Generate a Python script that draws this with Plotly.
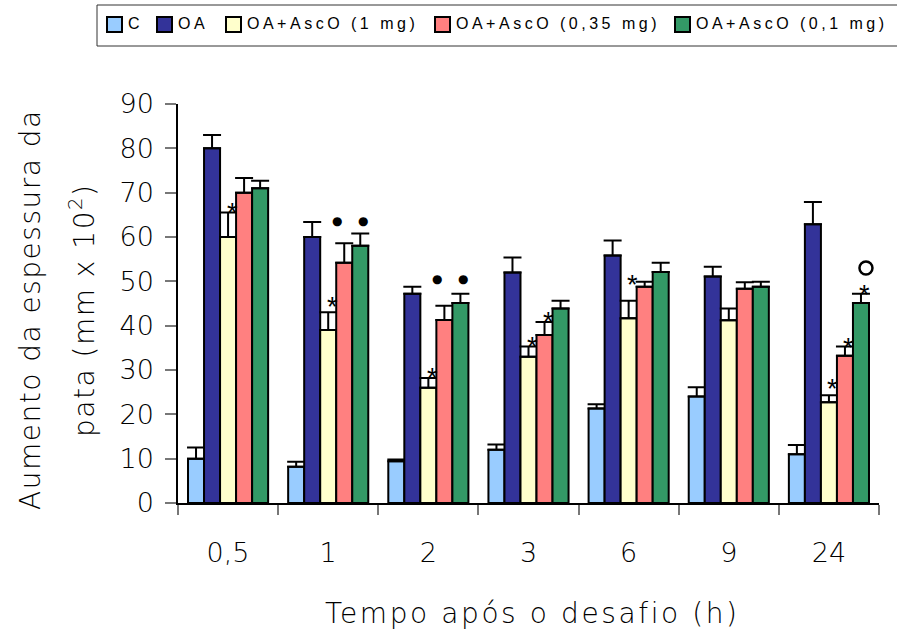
import plotly.graph_objects as go

# ---- data ----
categories = ["0,5", "1", "2", "3", "6", "9", "24"]
series_names = ["C", "OA", "OA+AscO (1 mg)", "OA+AscO (0,35 mg)", "OA+AscO (0,1 mg)"]
c_vals = [10, 8.2, 9.4, 12, 21.3, 24, 11]
c_err = [2.5, 1.1, 0.4, 1.2, 1.0, 2.1, 2.1]
oa_vals = [80, 60, 47.2, 52, 55.8, 51.1, 62.9]
oa_err = [3, 3.4, 1.6, 3.4, 3.4, 2.2, 5]
asc1_vals = [60, 39, 26, 33, 41.7, 41.2, 22.7]
asc1_err = [5.5, 4, 2.2, 2.3, 3.9, 2.7, 1.6]
asc035_vals = [70, 54.2, 41.3, 37.9, 48.8, 48.3, 33.2]
asc035_err = [3.3, 4.4, 3.2, 2.9, 1.1, 1.5, 2.1]
asc01_vals = [71, 58, 45.1, 43.9, 52.1, 48.8, 45.1]
asc01_err = [1.7, 2.8, 2.1, 1.7, 2.1, 1.1, 2.1]
colors = ["#99CCFF", "#333399", "#FFFFCC", "#FF8080", "#339966"]

# significance marks: (category index, series index, symbol, y value)
marks = [
    (0, 2, "*", 66.8),
    (1, 2, "*", 45.5), (1, 3, "●", 63.6), (1, 4, "●", 63.6),
    (2, 2, "*", 29.6), (2, 3, "●", 50.5), (2, 4, "●", 50.5),
    (3, 2, "*", 36.6), (3, 3, "*", 42.2),
    (4, 2, "*", 50.5),
    (6, 2, "*", 27.1), (6, 3, "*", 36.4), (6, 4, "*", 48.3), (6, 4, "○", 53.0),
]

values = [c_vals, oa_vals, asc1_vals, asc035_vals, asc01_vals]
errors = [c_err, oa_err, asc1_err, asc035_err, asc01_err]

W, H = 897, 636
ML, MR, MT, MB = 178, 18, 104, 133
PW, PH = W - ML - MR, H - MT - MB

FONT = "DejaVu Sans"

fig = go.Figure()
for name, v, e, col in zip(series_names, values, errors, colors):
    fig.add_trace(go.Bar(
        name=name, x=categories, y=v,
        marker=dict(color=col, line=dict(color="black", width=2)),
        error_y=dict(type="data", array=e, arrayminus=[0] * len(e), symmetric=False,
                     color="black", thickness=2, width=9),
        showlegend=False,
    ))

n = len(series_names)
bw = 0.8 / n
# small horizontal nudges for the paired dots (first / second of a pair)
dot_shift = {3: -7, 4: 3}
annotations = []
shapes = []
for ci, si, sym, yv in marks:
    xpos = ci + (si - (n - 1) / 2) * bw
    if sym == "*":
        annotations.append(dict(x=xpos, y=yv, xref="x", yref="y", text="*", showarrow=False,
                                font=dict(family="Liberation Sans", size=27, color="black"),
                                xanchor="center", yanchor="middle", xshift=4, yshift=-6))
    elif sym == "●":
        annotations.append(dict(x=xpos, y=yv, xref="x", yref="y", text="●", showarrow=False,
                                font=dict(family=FONT, size=12, color="black"),
                                xanchor="center", yanchor="middle", xshift=dot_shift[si]))
    else:
        # open circle marker drawn as a pixel-sized shape anchored at the data point
        shapes.append(dict(type="circle", xref="x", yref="y",
                           xsizemode="pixel", ysizemode="pixel",
                           xanchor=xpos, yanchor=yv,
                           x0=-1.5, x1=11.5, y0=-6.5, y1=6.5,
                           line=dict(color="black", width=2.5), fillcolor="rgba(0,0,0,0)"))


def px_x(p):
    return (p - ML) / PW


def px_y(p):
    return (H - MB - p) / PH


# y-axis title (two lines)
annotations.append(dict(x=px_x(30), y=px_y(310), xref="paper", yref="paper",
                        text='<span style="letter-spacing:1.5px">Aumento da espessura da</span>',
                        textangle=-90, showarrow=False,
                        font=dict(family=FONT, size=28, color="black", weight=300),
                        xanchor="center", yanchor="middle"))
annotations.append(dict(x=px_x(82), y=px_y(311), xref="paper", yref="paper",
                        text='<span style="letter-spacing:1.5px">pata (mm x 10<sup>2</sup>)</span>',
                        textangle=-90, showarrow=False,
                        font=dict(family=FONT, size=28, color="black", weight=300),
                        xanchor="center", yanchor="middle"))
# x-axis title
annotations.append(dict(x=px_x(532), y=px_y(613), xref="paper", yref="paper",
                        text='<span style="letter-spacing:2.6px">Tempo após o desafio (h)</span>',
                        showarrow=False, font=dict(family=FONT, size=28, color="black", weight=300),
                        xanchor="center", yanchor="middle"))

# legend (drawn manually to mimic the original boxed layout)
shapes.append(dict(type="rect", xref="paper", yref="paper",
                   x0=px_x(97), x1=px_x(905), y0=px_y(46), y1=px_y(5),
                   line=dict(color="#333", width=1), fillcolor="white"))
leg_sq_x = [107, 157, 226, 435, 675]
for name, col, sx in zip(series_names, colors, leg_sq_x):
    shapes.append(dict(type="rect", xref="paper", yref="paper",
                       x0=px_x(sx), x1=px_x(sx + 15), y0=px_y(32), y1=px_y(17),
                       line=dict(color="black", width=2), fillcolor=col))
    annotations.append(dict(x=px_x(sx + 19), y=px_y(23), xref="paper", yref="paper",
                            text='<span style="letter-spacing:3.5px">%s</span>' % name,
                            showarrow=False, font=dict(family="Liberation Sans", size=16, color="black"),
                            xanchor="left", yanchor="middle"))

fig.update_layout(
    width=W, height=H,
    margin=dict(l=ML, r=MR, t=MT, b=MB, pad=0),
    paper_bgcolor="white", plot_bgcolor="white",
    barmode="group", bargap=0.2, bargroupgap=0,
    annotations=annotations, shapes=shapes,
    showlegend=False,
    xaxis=dict(type="category", showline=True, linecolor="black", linewidth=1.5,
               ticks="outside", tickson="boundaries", ticklen=10, tickcolor="#777", tickwidth=1.5,
               tickfont=dict(family=FONT, size=27, color="black", weight=300), ticklabelstandoff=25,
               showgrid=False, zeroline=False),
    yaxis=dict(range=[0, 90], dtick=10, showline=True, linecolor="black", linewidth=1.5,
               ticks="outside", ticklen=11, tickcolor="#777", tickwidth=1.5,
               tickfont=dict(family=FONT, size=27, color="black", weight=300), ticklabelstandoff=6,
               showgrid=False, zeroline=False),
)

fig.write_html("out.html")
